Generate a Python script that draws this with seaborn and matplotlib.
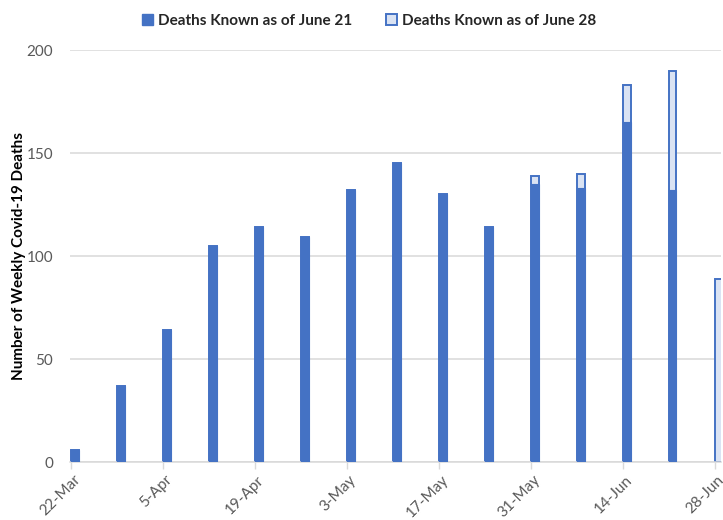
import matplotlib
matplotlib.use("Agg")
import matplotlib.pyplot as plt
from matplotlib.patches import Patch
from matplotlib.transforms import ScaledTranslation
import pandas as pd
import seaborn as sns

weeks = ["22-Mar", "29-Mar", "5-Apr", "12-Apr", "19-Apr", "26-Apr", "3-May",
         "10-May", "17-May", "24-May", "31-May", "7-Jun", "14-Jun", "21-Jun", "28-Jun"]
deaths_june21 = [6, 37, 64, 105, 114, 109, 132, 145, 130, 114, 135, 133, 165, 132, 0]
deaths_june28 = [6, 37, 64, 105, 114, 109, 132, 145, 130, 114, 139, 140, 183, 190, 89]
label_21 = "Deaths Known as of June 21"
label_28 = "Deaths Known as of June 28"

BLUE = "#4472C4"
LIGHT = "#DAE3F3"
GRID = "#D9D9D9"
TXT = "#595959"

sns.set_theme(style="white")
plt.rcParams["font.family"] = ["Lato", "DejaVu Sans"]

df = pd.DataFrame({"week": weeks, "june21": deaths_june21, "june28": deaths_june28})

fig = plt.figure(figsize=(7.23, 5.2), dpi=100)
ax = fig.add_axes([0.0968, 0.1115, 0.9002, 0.7923])

# later count behind, earlier count drawn over it
sns.barplot(data=df, x="week", y="june28", order=weeks, color=LIGHT, saturation=1,
            edgecolor=BLUE, linewidth=1.4, width=0.17, ax=ax, zorder=2)
sns.barplot(data=df, x="week", y="june21", order=weeks, color=BLUE, saturation=1,
            edgecolor=BLUE, linewidth=0.8, width=0.17, ax=ax, zorder=3)

ax.set_ylim(0, 200)
ax.set_xlim(-0.11, 14.05)
ax.set_yticks([0, 50, 100, 150, 200])
ax.yaxis.grid(True, color=GRID, linewidth=1.1, zorder=0)
ax.set_axisbelow(True)

tick_pos = list(range(0, len(weeks), 2))
ax.set_xticks([p - 0.08 for p in tick_pos])
ax.set_xticklabels([weeks[p] for p in tick_pos], rotation=45, ha="right",
                   rotation_mode="anchor", color=TXT, fontsize=11)
ax.tick_params(axis="x", bottom=True, length=5, width=1, color=GRID, pad=2)
ax.tick_params(axis="y", left=False, length=0, labelsize=11, labelcolor=TXT, pad=12)

# nudge the slanted date labels so their ends sit just right of each tick
shift = ScaledTranslation(2 / 100, -1 / 100, fig.dpi_scale_trans)
for lbl in ax.get_xticklabels():
    lbl.set_transform(lbl.get_transform() + shift)

for side in ["top", "right", "left"]:
    ax.spines[side].set_visible(False)
ax.spines["bottom"].set_color(GRID)
ax.spines["bottom"].set_linewidth(1.1)

ax.set_xlabel("")
ax.set_ylabel("Number of Weekly Covid-19 Deaths", fontsize=11, fontweight="bold",
              color="black")
ax.yaxis.set_label_coords(-0.068, 0.5)

handles = [Patch(facecolor=BLUE, edgecolor=BLUE, label=label_21),
           Patch(facecolor=LIGHT, edgecolor=BLUE, linewidth=1.4, label=label_28)]
fig.legend(handles=handles, loc="upper center", bbox_to_anchor=(0.51, 1.0), ncol=2,
           frameon=False, handlelength=0.75, handleheight=0.75, handletextpad=0.3,
           columnspacing=2.2, prop={"family": ["Lato", "DejaVu Sans"], "weight": "bold", "size": 11})

fig.savefig("out.png", dpi=100)
